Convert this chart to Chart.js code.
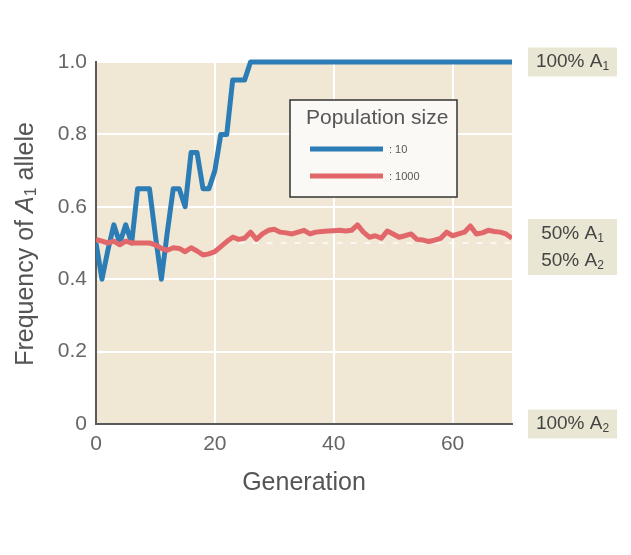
<!DOCTYPE html>
<html><head><meta charset="utf-8">
<script src="https://cdn.jsdelivr.net/npm/chart.js@4/dist/chart.umd.min.js"></script>
<style>html,body{margin:0;padding:0;background:#fff}#wrap{width:631px;height:555px}</style>
</head><body><div id="wrap"><canvas id="c" width="631" height="555"></canvas></div>
<script>
// ---- data ----
const generations = [];
for (let g = 0; g <= 70; g++) generations.push(g);
const popSmall = [0.5,0.4,0.48,0.55,0.5,0.55,0.5,0.65,0.65,0.65,
  0.52,0.4,0.53,0.65,0.65,0.6,0.75,0.75,0.65,0.65,
  0.7,0.8,0.8,0.95,0.95,0.95,1,1,1,1,
  1,1,1,1,1,1,1,1,1,1,
  1,1,1,1,1,1,1,1,1,1,
  1,1,1,1,1,1,1,1,1,1,
  1,1,1,1,1,1,1,1,1,1,1];
const popLarge = [0.51,0.505,0.5,0.505,0.495,0.505,0.5,0.5,0.5,0.5,
  0.495,0.485,0.48,0.487,0.485,0.476,0.487,0.478,0.467,0.47,
  0.476,0.49,0.504,0.516,0.51,0.513,0.53,0.51,0.525,0.535,
  0.538,0.53,0.528,0.525,0.53,0.535,0.525,0.53,0.532,0.533,
  0.534,0.535,0.533,0.535,0.55,0.53,0.516,0.52,0.513,0.533,
  0.525,0.516,0.52,0.525,0.51,0.508,0.504,0.508,0.513,0.53,
  0.52,0.525,0.53,0.547,0.525,0.528,0.535,0.532,0.53,0.525,0.513];
const seriesNames = [': 10', ': 1000'];
const legendTitle = 'Population size';
const xTickValues = [0, 20, 40, 60];
const yTickValues = [0, 0.2, 0.4, 0.6, 0.8, 1.0];
const xTitle = 'Generation';
const yTitleParts = ['Frequency of ', 'A', '1', ' allele'];
const sideLabels = [
  {value: 1.0, lines: [['100% A', '1']]},
  {value: 0.5, lines: [['50% A', '1'], ['50% A', '2']]},
  {value: 0.0, lines: [['100% A', '2']]}
];
const equilibriumValue = 0.5;
const equilibriumFrom = 24;

// ---- style ----
const FONT = "'Liberation Sans', Arial, Helvetica, sans-serif";
const BLUE = '#2c7db6';
const RED = '#e2676b';
const BG = '#f1e7d5';
const AXIS = '#5a5a5a';

const decorPlugin = {
  id: 'decor',
  beforeDraw(chart) {
    const {ctx, chartArea: a} = chart;
    ctx.save();
    ctx.fillStyle = BG;
    ctx.fillRect(a.left, a.top, a.right - a.left, a.bottom - a.top);
    ctx.restore();
  },
  beforeDatasetsDraw(chart) {
    const {ctx, chartArea: a, scales} = chart;
    const y = scales.y.getPixelForValue(equilibriumValue);
    ctx.save();
    ctx.strokeStyle = 'rgba(255,255,255,0.85)';
    ctx.lineWidth = 1.5;
    ctx.setLineDash([6, 8]);
    ctx.beginPath();
    ctx.moveTo(scales.x.getPixelForValue(equilibriumFrom), y);
    ctx.lineTo(a.right, y);
    ctx.stroke();
    ctx.restore();
  },
  afterDraw(chart) {
    const {ctx, chartArea: a, scales} = chart;
    ctx.save();
    // x title
    ctx.fillStyle = '#555';
    ctx.font = '25px ' + FONT;
    ctx.textAlign = 'center';
    ctx.textBaseline = 'middle';
    ctx.fillText(xTitle, (a.left + a.right) / 2, 483);
    // y title (rotated, with italic A and subscript)
    ctx.save();
    ctx.translate(26, 244);
    ctx.rotate(-Math.PI / 2);
    ctx.textAlign = 'left';
    ctx.textBaseline = 'middle';
    const fNorm = '25px ' + FONT, fIt = 'italic 25px ' + FONT, fSub = '16px ' + FONT;
    const parts = [[yTitleParts[0], fNorm, 0], [yTitleParts[1], fIt, 0], [yTitleParts[2], fSub, 6], [yTitleParts[3], fNorm, 0]];
    let total = 0;
    parts.forEach(p => { ctx.font = p[1]; total += ctx.measureText(p[0]).width; });
    let x = -total / 2;
    parts.forEach(p => { ctx.font = p[1]; ctx.fillText(p[0], x, p[2]); x += ctx.measureText(p[0]).width; });
    ctx.restore();

    // side labels
    const boxL = 528, boxR = 617, lineH = 27;
    sideLabels.forEach(s => {
      let cy = scales.y.getPixelForValue(s.value);
      if (s.lines.length > 1) cy += 4;
      const h = lineH * s.lines.length + 2;
      ctx.fillStyle = '#e9e7d3';
      ctx.fillRect(boxL, cy - h / 2, boxR - boxL, h);
      s.lines.forEach((ln, i) => {
        const ly = cy - h / 2 + 1 + lineH * (i + 0.5);
        ctx.font = '19px ' + FONT;
        const w1 = ctx.measureText(ln[0]).width;
        ctx.font = '12px ' + FONT;
        const w2 = ctx.measureText(ln[1]).width;
        const sx = (boxL + boxR) / 2 - (w1 + w2) / 2;
        ctx.fillStyle = '#444';
        ctx.textAlign = 'left';
        ctx.textBaseline = 'middle';
        ctx.font = '19px ' + FONT;
        ctx.fillText(ln[0], sx, ly);
        ctx.font = '12px ' + FONT;
        ctx.fillText(ln[1], sx + w1, ly + 5);
      });
    });

    // legend box
    const lx = 290, ly = 100, lw = 167, lh = 97;
    ctx.fillStyle = '#fbf9f5';
    ctx.fillRect(lx, ly, lw, lh);
    ctx.strokeStyle = '#333';
    ctx.lineWidth = 1.5;
    ctx.strokeRect(lx, ly, lw, lh);
    ctx.fillStyle = '#555';
    ctx.font = '21px ' + FONT;
    ctx.textAlign = 'left';
    ctx.textBaseline = 'middle';
    ctx.fillText(legendTitle, 306, 118);
    const order = [1, 0];
    order.forEach((di, i) => {
      const ds = chart.data.datasets[di];
      const yy = 149 + i * 27;
      ctx.strokeStyle = ds.borderColor;
      ctx.lineWidth = 5;
      ctx.setLineDash([]);
      ctx.beginPath();
      ctx.moveTo(310, yy);
      ctx.lineTo(383, yy);
      ctx.stroke();
      ctx.fillStyle = '#555';
      ctx.font = '11px ' + FONT;
      ctx.fillText(ds.label, 389, yy + 1);
    });
    ctx.restore();
  }
};

new Chart(document.getElementById('c'), {
  type: 'line',
  data: {
    labels: generations,
    datasets: [
      {label: seriesNames[1], data: popLarge.map((v, i) => ({x: generations[i], y: v})),
       borderColor: RED, borderWidth: 5, pointRadius: 0, tension: 0, order: 0,
       borderJoinStyle: 'round', borderCapStyle: 'butt', clip: {left: 0, right: 0, top: 4, bottom: 0}},
      {label: seriesNames[0], data: popSmall.map((v, i) => ({x: generations[i], y: v})),
       borderColor: BLUE, borderWidth: 5, pointRadius: 0, tension: 0, order: 1,
       borderJoinStyle: 'round', borderCapStyle: 'butt', clip: {left: 0, right: 0, top: 4, bottom: 0}}
    ]
  },
  options: {
    responsive: false,
    devicePixelRatio: 1,
    animation: false,
    layout: {padding: {left: 0, top: 62, right: 119, bottom: 0}},
    plugins: {legend: {display: false}, tooltip: {enabled: false}},
    scales: {
      x: {
        type: 'linear', min: 0, max: 70,
        afterBuildTicks: s => { s.ticks = xTickValues.map(v => ({value: v})); },
        afterFit: s => { s.height = 131; },
        grid: {color: '#ffffff', lineWidth: 2, drawTicks: false},
        border: {display: true, color: AXIS, width: 2},
        ticks: {color: '#666', font: {family: FONT, size: 21}, padding: 8, maxRotation: 0}
      },
      y: {
        type: 'linear', min: 0, max: 1,
        afterBuildTicks: s => { s.ticks = yTickValues.map(v => ({value: v})); },
        afterFit: s => { s.width = 96; },
        grid: {color: '#ffffff', lineWidth: 2, drawTicks: false},
        border: {display: true, color: AXIS, width: 2},
        ticks: {color: '#666', font: {family: FONT, size: 21}, padding: 9,
          callback: v => v === 0 ? '0' : v.toFixed(1)}
      }
    }
  },
  plugins: [decorPlugin]
});
</script></body></html>
